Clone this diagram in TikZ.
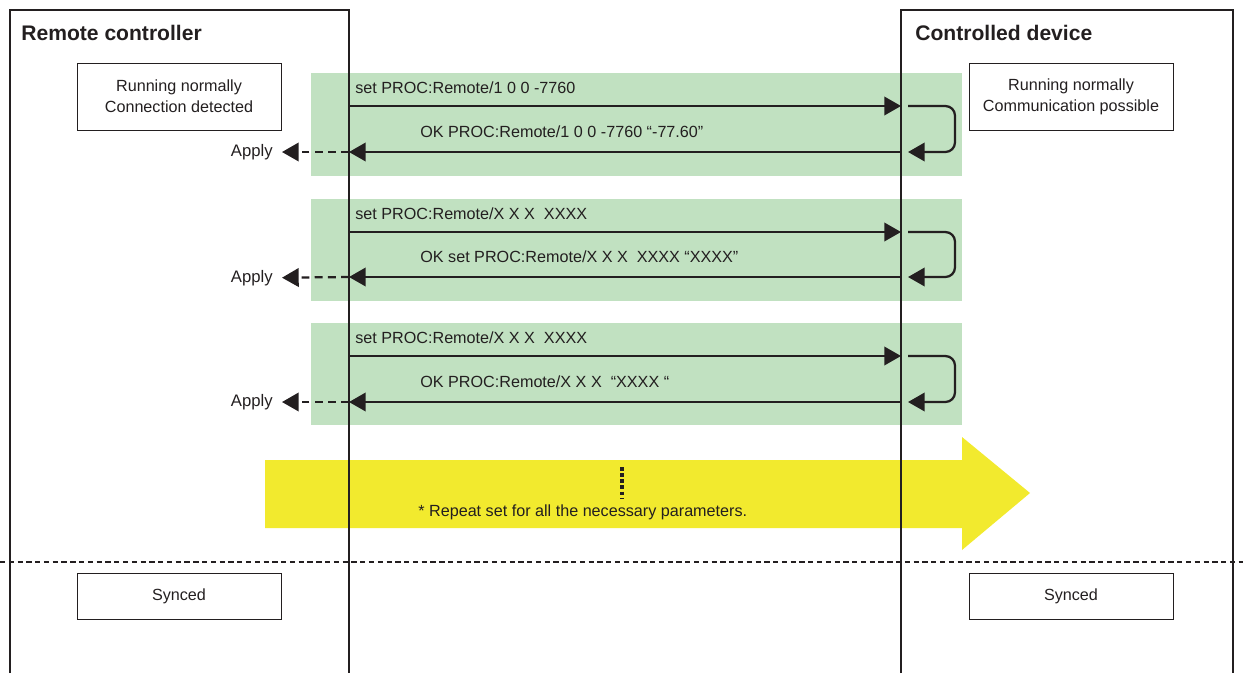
\documentclass[tikz,border=0pt]{standalone}
\usepackage{fontspec}
\setmainfont{Liberation Sans}
\usetikzlibrary{positioning,arrows.meta}
\definecolor{bandgreen}{RGB}{193,225,193}
\definecolor{repyellow}{RGB}{242,234,46}
\definecolor{ink}{RGB}{35,31,32}

\begin{document}
\begin{tikzpicture}[
    x=0.02cm, y=-0.02cm,
    frame/.style = {draw=ink, line width=1.4pt},
    state/.style = {
        rectangle, draw=ink, line width=0.55pt,
        minimum width=4.08cm, minimum height=1.34cm,
        align=center, text=ink, font=\fontsize{9.2}{12}\selectfont
    },
    synced/.style = {state, minimum height=0.92cm},
    title/.style = {anchor=west, inner sep=0pt, text=ink, font=\fontsize{12}{14}\selectfont\bfseries},
    msglabel/.style = {anchor=west, inner sep=0pt, text=ink, font=\fontsize{9.2}{11}\selectfont},
    applylabel/.style = {anchor=east, inner xsep=0.18cm, inner ysep=0pt, text=ink, font=\fontsize{9.5}{11}\selectfont},
    band/.style = {fill=bandgreen},
    msg/.style = {draw=ink, line width=1.3pt, -{Triangle[length=9.5pt,width=10.5pt]}},
    turn/.style = {msg, rounded corners=5.5pt},
    apply/.style = {msg, dash pattern=on 4.5pt off 3pt}
]
\useasboundingbox (0,0) rectangle (1243,673);

% Bands
\fill[band] (311,73) rectangle (962,176);
\fill[band] (311,199) rectangle (962,301);
\fill[band] (311,323) rectangle (962,425);

% Repeat arrow
\fill[repyellow] (265,460) -- (962,460) -- (962,437) -- (1030,493)
    -- (962,550) -- (962,528) -- (265,528) -- cycle;
\draw[ink, line width=1.9pt, dash pattern=on 2.2pt off 1.3pt] (622,467) -- (622,498);
\node[msglabel] (repeat) at (418,512) {* Repeat set for all the necessary parameters.};

% Frames
\draw[frame] (10,673) |- (349,10) -- (349,673);
\draw[frame] (901,673) |- (1233,10) -- (1233,673);
\node[title] (rctitle) at (21,33) {Remote controller};
\node[title] (cdtitle) at (915,33) {Controlled device};

% States
\node[state] (rcstate) at (179,96.5) {Running normally\\Connection detected};
\node[state] (cdstate) at (1071,96.5) {Running normally\\Communication possible};

% Band 1
\coordinate (rc1) at (349,106);
\coordinate (cd1) at (901,106);
\coordinate (cd1o) at (908,106);
\coordinate (cd1i) at (908,152);
\coordinate (rc1r) at (349,152);
\node[msglabel] (set1) at (355,88) {set PROC:Remote/1 0 0 -7760};
\node[msglabel] (ok1) at (420,132) {OK PROC:Remote/1 0 0 -7760 “-77.60”};
\node[applylabel] (apply1) at (282,152) {Apply};
\draw[msg] (rc1) -- (cd1);
\draw[turn] (cd1o) -- ++(47,0) |- (cd1i);
\draw[msg] (cd1i -| cd1) -- (rc1r);
\draw[apply] (rc1r) -- (apply1);

% Band 2
\coordinate (rc2) at (349,232);
\coordinate (cd2) at (901,232);
\coordinate (cd2o) at (908,232);
\coordinate (cd2i) at (908,277);
\coordinate (rc2r) at (349,277);
\node[msglabel] (set2) at (355,214) {set PROC:Remote/X X X\ \ XXXX};
\node[msglabel] (ok2) at (420,257) {OK set PROC:Remote/X X X\ \ XXXX “XXXX”};
\node[applylabel] (apply2) at (282,278) {Apply};
\draw[msg] (rc2) -- (cd2);
\draw[turn] (cd2o) -- ++(47,0) |- (cd2i);
\draw[msg] (cd2i -| cd2) -- (rc2r);
\draw[apply] (rc2r) -- (apply2);

% Band 3
\coordinate (rc3) at (349,356);
\coordinate (cd3) at (901,356);
\coordinate (cd3o) at (908,356);
\coordinate (cd3i) at (908,402);
\coordinate (rc3r) at (349,402);
\node[msglabel] (set3) at (355,338) {set PROC:Remote/X X X\ \ XXXX};
\node[msglabel] (ok3) at (420,382) {OK PROC:Remote/X X X\ \ “XXXX “};
\node[applylabel] (apply3) at (282,402) {Apply};
\draw[msg] (rc3) -- (cd3);
\draw[turn] (cd3o) -- ++(47,0) |- (cd3i);
\draw[msg] (cd3i -| cd3) -- (rc3r);
\draw[apply] (rc3r) -- (apply3);

% Sync
\draw[ink, line width=1.3pt, dash pattern=on 3pt off 2pt] (0,562) -- (1243,562);
\node[synced] (rcsync) at (179,596) {Synced};
\node[synced] (cdsync) at (1071,596) {Synced};

\end{tikzpicture}
\end{document}
